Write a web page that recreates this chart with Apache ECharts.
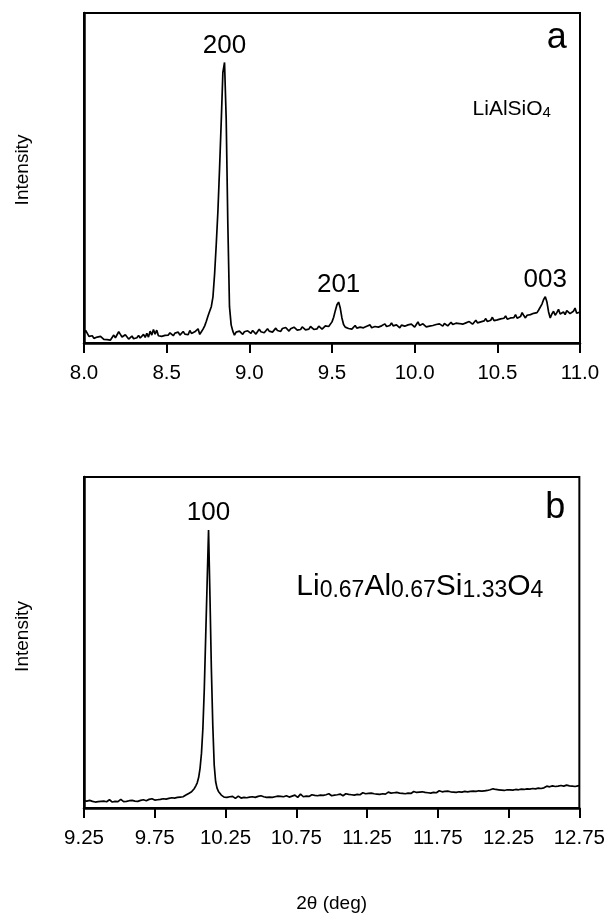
<!DOCTYPE html>
<html>
<head>
<meta charset="utf-8">
<script src="https://cdn.jsdelivr.net/npm/echarts@6/dist/echarts.min.js"></script>
<style>
  html, body { margin: 0; padding: 0; background: #fff; }
  #chart { width: 608px; height: 921px; }
</style>
</head>
<body>
<div id="chart"></div>
<script>
// panel a: LiAlSiO4, 2theta from 8.00 in steps of 0.01
const aStart = 8.0
const aStep = 0.01
const aIntensity = [
  3.0, 3.8, 3.2, 2.0, 1.6, 2.2, 1.4, 1.2, 1.8, 1.3,
  2.0, 1.5, 1.1, 1.6, 1.0, 1.4, 0.9, 1.3, 2.4, 1.6,
  2.2, 3.4, 2.6, 1.8, 1.4, 2.5, 1.9, 1.2, 1.5, 2.1,
  1.3, 1.0, 1.6, 2.3, 1.5, 1.1, 2.6, 1.7, 2.9, 1.8,
  3.6, 2.4, 4.1, 2.7, 3.9, 2.2, 2.8, 2.0, 2.6, 2.3,
  2.9, 2.4, 3.1, 2.6, 2.2, 3.0, 2.5, 3.3, 2.4, 3.0,
  3.5, 2.7, 3.2, 2.5, 3.8, 2.9, 2.6, 3.4, 2.8, 4.3,
  2.6, 3.4, 4.2, 5.2, 6.6, 8.2, 9.6, 11.0, 14.0, 21.0,
  30.0, 40.0, 53.0, 67.0, 82.0, 85.0, 68.0, 36.0, 11.0, 5.5,
  3.6, 2.4, 3.3, 2.8, 3.6, 3.1, 2.6, 3.4, 3.0, 3.7,
  3.2, 2.9, 3.8, 3.3, 2.7, 3.5, 4.2, 3.4, 3.9, 3.1,
  3.7, 4.3, 3.6, 4.0, 3.3, 3.9, 4.5, 3.8, 4.2, 3.5,
  4.4, 3.9, 4.7, 4.1, 3.6, 4.3, 4.0, 4.8, 4.2, 3.9,
  4.5, 4.1, 4.9, 4.3, 4.0, 4.6, 4.2, 5.0, 4.4, 4.1,
  4.7, 4.3, 5.1, 4.5, 4.2, 4.8, 5.2, 4.6, 5.0, 5.6,
  6.4, 7.8, 9.8, 11.6, 12.4, 10.6, 7.6, 5.6, 4.8, 5.2,
  4.4, 4.9, 4.2, 4.7, 5.3, 4.5, 4.1, 4.8, 5.4, 4.6,
  4.3, 5.1, 4.7, 5.5, 4.6, 4.2, 5.0, 5.6, 4.8, 4.4,
  5.2, 4.7, 5.8, 5.0, 4.5, 5.3, 6.1, 5.2, 4.8, 5.5,
  5.0, 4.6, 5.4, 6.0, 5.1, 4.7, 5.5, 5.0, 5.7, 5.2,
  4.8, 5.6, 6.4, 5.3, 5.0, 5.8, 5.2, 4.9, 5.5, 5.1,
  5.7, 5.3, 5.0, 5.6, 5.2, 5.8, 5.4, 5.1, 5.9, 5.5,
  5.2, 5.8, 6.3, 5.6, 5.3, 6.0, 5.5, 5.9, 6.4, 5.7,
  5.4, 6.1, 5.8, 6.5, 6.0, 5.7, 6.3, 6.9, 6.1, 5.8,
  6.4, 6.0, 6.7, 7.4, 6.5, 6.2, 6.9, 7.8, 6.8, 6.4,
  7.0, 6.6, 7.3, 6.8, 7.5, 8.2, 7.2, 6.9, 7.6, 7.1,
  7.7, 8.6, 7.5, 7.2, 8.0, 9.2, 8.3, 7.6, 8.4, 7.9,
  8.6, 8.2, 9.0, 9.6, 9.2, 10.0, 10.6, 11.8, 13.2, 14.0,
  12.4, 9.4, 7.6, 8.8, 9.6, 8.4, 9.2, 10.2, 8.8, 8.2,
  9.4, 8.6, 9.8, 10.4, 8.9, 8.4, 9.6, 10.6, 9.0, 8.6,
  9.4
]
const aTicks = [8.0, 8.5, 9.0, 9.5, 10.0, 10.5, 11.0]
const aPeakNames = ['200', '201', '003']
const aPeakAngles = [8.85, 9.54, 10.79]

// panel b: Li0.67Al0.67Si1.33O4, 2theta from 9.25 in steps of 0.01
const bStart = 9.25
const bStep = 0.01
const bIntensity = [
  2.2, 1.8, 2.1, 1.9, 2.3, 1.7, 2.0, 2.2, 1.8, 2.1,
  1.9, 2.4, 2.0, 1.7, 2.1, 2.3, 1.9, 2.0, 2.5, 2.1,
  1.8, 2.2, 2.0, 2.4, 1.9, 2.1, 2.6, 2.2, 1.9, 2.3,
  2.0, 2.4, 2.2, 1.8, 2.3, 2.5, 2.1, 2.4, 2.0, 2.6,
  2.3, 2.1, 2.5, 2.7, 2.2, 2.4, 2.6, 2.3, 2.8, 2.5,
  2.4, 2.7, 2.5, 2.9, 2.6, 2.4, 2.8, 3.0, 2.7, 2.6,
  2.9, 2.7, 3.1, 2.8, 3.0, 2.9, 3.2, 3.0, 3.3, 3.1,
  3.4, 3.6, 3.9, 4.2, 4.4, 4.6, 4.9, 5.3, 5.9, 6.7,
  7.6, 9.2, 12.0, 16.5, 24.0, 36.0, 52.0, 68.0, 84.0, 64.0,
  42.0, 25.0, 13.0, 8.0, 6.0, 5.0, 4.4, 3.9, 3.5, 3.3,
  3.6, 3.2, 3.0, 3.4, 3.1, 3.5, 3.3, 2.9, 3.2, 3.6,
  3.3, 3.0, 3.4, 3.2, 2.8, 3.1, 3.5, 3.3, 3.0, 3.4,
  3.6, 3.2, 3.0, 3.5, 3.3, 3.7, 3.1, 3.4, 3.6, 3.2,
  2.7, 3.3, 3.5, 3.2, 3.8, 3.4, 3.1, 3.6, 3.3, 3.5,
  3.9, 3.4, 3.2, 3.7, 3.5, 3.3, 3.8, 3.6, 3.4, 3.9,
  3.5, 3.2, 3.6, 4.2, 3.7, 3.4, 3.8, 3.6, 3.9, 3.5,
  3.7, 4.0, 3.6, 3.8, 4.1, 3.7, 3.5, 3.9, 4.2, 3.8,
  3.6, 4.0, 3.8, 4.3, 3.9, 3.7, 4.1, 3.9, 4.4, 4.0,
  3.8, 4.2, 4.0, 3.7, 4.1, 4.3, 3.9, 4.1, 4.5, 4.0,
  4.2, 3.9, 4.4, 4.1, 4.3, 4.0, 4.2, 4.6, 4.1, 4.3,
  4.0, 4.4, 4.2, 4.5, 4.1, 4.3, 4.7, 4.2, 4.4, 4.1,
  4.5, 4.3, 4.6, 4.2, 4.4, 4.8, 4.3, 4.5, 4.2, 4.6,
  4.4, 4.7, 4.3, 4.5, 4.9, 4.4, 4.6, 4.3, 4.7, 4.5,
  4.8, 4.4, 4.6, 5.0, 4.5, 4.7, 4.4, 4.8, 4.6, 4.9,
  4.5, 4.7, 5.1, 4.6, 4.8, 4.5, 4.9, 4.7, 5.0, 4.6,
  4.8, 5.2, 4.7, 4.9, 4.6, 5.0, 4.8, 5.1, 4.7, 4.9,
  5.3, 4.8, 5.0, 4.7, 5.1, 4.9, 5.2, 4.8, 5.4, 5.0,
  5.2, 4.9, 5.3, 5.0, 5.5, 5.1, 5.3, 5.0, 5.4, 5.2,
  5.6, 5.1, 5.4, 5.2, 5.7, 5.3, 5.0, 5.5, 5.3, 5.8,
  5.4, 5.6, 5.2, 5.5, 5.9, 5.4, 5.6, 5.3, 5.7, 5.5,
  5.9, 5.5, 5.7, 5.4, 6.0, 5.6, 5.8, 5.5, 6.1, 5.7,
  5.9, 5.6, 6.2, 5.8, 6.0, 5.7, 6.3, 5.9, 6.1, 5.8,
  6.4, 6.0, 6.2, 5.9, 6.5, 6.1, 6.3, 6.6, 6.0, 6.4,
  6.2, 6.7, 6.3, 6.5, 6.1, 6.6, 6.4, 6.8, 6.3, 6.6,
  6.5, 6.9, 6.4, 6.7, 7.0, 6.6, 6.8, 6.5, 6.9, 6.7,
  6.8
]
const bTicks = [9.25, 9.75, 10.25, 10.75, 11.25, 11.75, 12.25, 12.75]
const bPeakNames = ['100']
const bPeakAngles = [10.13]

const FONT = '"Liberation Sans", Arial, Helvetica, sans-serif'

function toPairs(start, step, values) {
  return values.map((v, i) => [+(start + i * step).toFixed(2), v])
}

// hkl labels sit just above the top of each reflection
function peakMarks(names, angles, start, step, values) {
  return names.map((n, i) => {
    const idx = Math.round((angles[i] - start) / step)
    return {
      name: n,
      coord: [angles[i], values[idx]],
      label: {
        show: true, position: 'top', distance: 4, formatter: n,
        color: '#000', fontSize: 26, fontFamily: FONT
      }
    }
  })
}

function xAxisFor(grid, min, max, ticks, digits, name) {
  return {
    type: 'value', gridIndex: grid, min: min, max: max,
    name: name || '', nameLocation: 'middle', nameGap: 86,
    nameTextStyle: { color: '#000', fontSize: 19, fontFamily: FONT },
    axisLine: { show: true, onZero: false, lineStyle: { color: '#000', width: 2.5 } },
    axisTick: { show: true, inside: false, length: 10, customValues: ticks, lineStyle: { color: '#000', width: 2 } },
    axisLabel: {
      show: true, margin: 20, customValues: ticks, color: '#000',
      fontSize: 20.5, fontFamily: FONT,
      formatter: v => Number(v).toFixed(digits)
    },
    splitLine: { show: false }
  }
}

function yAxisFor(grid, lift) {
  return {
    type: 'value', gridIndex: grid, min: 0, max: 100,
    name: 'Intensity', nameLocation: 'middle', nameGap: 52, nameRotate: 90,
    nameTextStyle: { color: '#000', fontSize: 19, fontFamily: FONT, padding: [0, 0, 0, lift] },
    axisLine: { show: true, lineStyle: { color: '#000', width: 2.5 } },
    axisTick: { show: false },
    axisLabel: { show: false },
    splitLine: { show: false }
  }
}

const textMark = (coord, label) => ({ coord: coord, label: Object.assign({ show: true, color: '#000', fontFamily: FONT }, label) })

const chart = echarts.init(document.getElementById('chart'), null, { renderer: 'canvas' })

chart.setOption({
  animation: false,
  backgroundColor: '#fff',
  grid: [
    { left: 84, top: 13, width: 496, height: 330, show: true, borderColor: '#000', borderWidth: 2, backgroundColor: 'transparent' },
    { left: 84, top: 477, width: 496, height: 331, show: true, borderColor: '#000', borderWidth: 2, backgroundColor: 'transparent' }
  ],
  xAxis: [
    xAxisFor(0, 8.0, 11.0, aTicks, 1),
    xAxisFor(1, 9.25, 12.75, bTicks, 2, '2θ (deg)')
  ],
  yAxis: [yAxisFor(0, 16), yAxisFor(1, 12)],
  series: [
    {
      type: 'line', xAxisIndex: 0, yAxisIndex: 0,
      data: toPairs(aStart, aStep, aIntensity),
      showSymbol: false, symbol: 'none',
      lineStyle: { color: '#000', width: 1.7 },
      markPoint: {
        symbol: 'circle', symbolSize: 0, silent: true,
        data: peakMarks(aPeakNames, aPeakAngles, aStart, aStep, aIntensity).concat([
          textMark([10.86, 92.4], { position: 'inside', formatter: 'a', fontSize: 36 }),
          textMark([10.35, 71.2], {
            position: 'right', distance: 0, formatter: '{m|LiAlSiO}{s|4}',
            rich: {
              m: { fontSize: 21, fontFamily: FONT, color: '#000', verticalAlign: 'bottom', lineHeight: 24 },
              s: { fontSize: 15, fontFamily: FONT, color: '#000', verticalAlign: 'bottom', lineHeight: 24 }
            }
          })
        ])
      }
    },
    {
      type: 'line', xAxisIndex: 1, yAxisIndex: 1,
      data: toPairs(bStart, bStep, bIntensity),
      showSymbol: false, symbol: 'none',
      lineStyle: { color: '#000', width: 1.7 },
      markPoint: {
        symbol: 'circle', symbolSize: 0, silent: true,
        data: peakMarks(bPeakNames, bPeakAngles, bStart, bStep, bIntensity).concat([
          textMark([12.58, 90.6], { position: 'inside', formatter: 'b', fontSize: 36 }),
          textMark([10.75, 67.4], {
            position: 'right', distance: 0,
            formatter: '{m|Li}{s|0.67}{m|Al}{s|0.67}{m|Si}{s|1.33}{m|O}{s|4}',
            rich: {
              m: { fontSize: 30, fontFamily: FONT, color: '#000', verticalAlign: 'bottom', lineHeight: 34 },
              s: { fontSize: 23, fontFamily: FONT, color: '#000', verticalAlign: 'bottom', lineHeight: 34 }
            }
          })
        ])
      }
    }
  ]
})
</script>
</body>
</html>
